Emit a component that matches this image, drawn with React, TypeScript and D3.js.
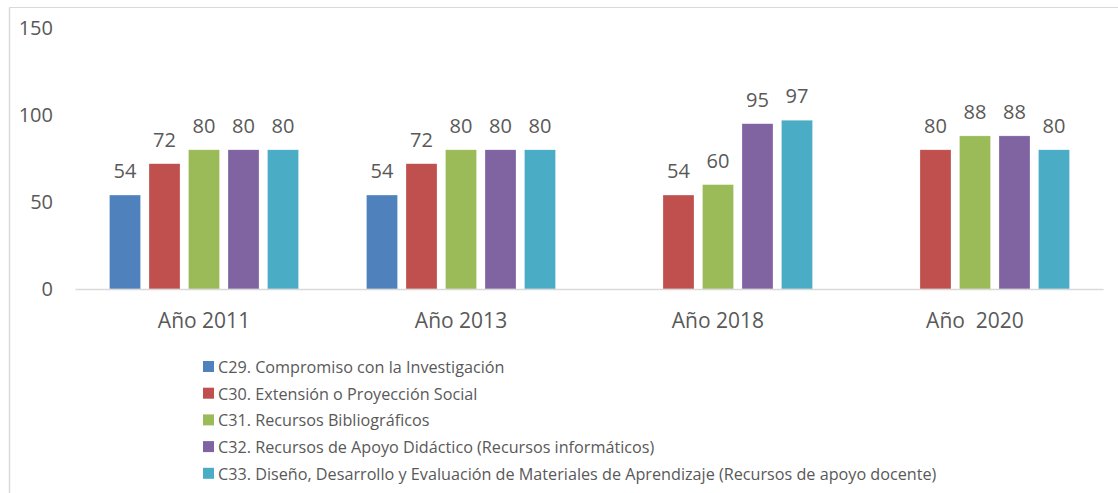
import React from 'react'
import * as d3 from 'd3'

// chart data
const categories = ['Año 2011', 'Año 2013', 'Año 2018', 'Año  2020']
const seriesNames = [
  'C29. Compromiso con la Investigación',
  'C30. Extensión o Proyección Social',
  'C31. Recursos Bibliográficos',
  'C32. Recursos de Apoyo Didáctico (Recursos informáticos)',
  'C33. Diseño, Desarrollo y Evaluación de Materiales de Aprendizaje (Recursos de apoyo docente)',
]
const c29 = [54, 54, null, null]
const c30 = [72, 72, 54, 80]
const c31 = [80, 80, 60, 88]
const c32 = [80, 80, 95, 88]
const c33 = [80, 80, 97, 80]
const yTicks = [0, 50, 100, 150]
const colors = ['#4F81BD', '#C0504D', '#9BBB59', '#8064A2', '#4BACC6']

const seriesValues: (number | null)[][] = [c29, c30, c31, c32, c33]

const W = 1118
const H = 493
const font = '"Open Sans", sans-serif'
const textColor = '#595959'

const App = () => {
  const x0 = d3.scaleBand<string>()
    .domain(categories)
    .range([75.5, 1103.5])
    .paddingInner(0.2315)
    .paddingOuter(0.1158)

  const x1 = d3.scaleBand<string>()
    .domain(seriesNames)
    .range([0, x0.bandwidth()])
    .paddingInner(0.215)
    .paddingOuter(0.1075)

  const y = d3.scaleLinear().domain([0, 150]).range([289, 28])

  const color = d3.scaleOrdinal<string, string>().domain(seriesNames).range(colors)

  return (
    <svg width={W} height={H} style={{ position: 'absolute', left: 0, top: 0, background: '#fff' }}>
      <rect x={0} y={0} width={W} height={H} fill="#fff" />
      {/* chart frame */}
      <line x1={9.5} x2={1118} y1={7.5} y2={7.5} stroke="#D9D9D9" strokeWidth={1} />
      <line x1={9.5} x2={9.5} y1={7.5} y2={H} stroke="#D9D9D9" strokeWidth={1.5} />

      {/* y tick labels */}
      <g fontFamily={font} fontSize={20} fill={textColor} textAnchor="end">
        {yTicks.map(t => (
          <text key={t} x={53} y={y(t) + 7}>{t}</text>
        ))}
      </g>

      {/* bars */}
      {seriesNames.map((s, si) => (
        <g key={s} fill={color(s)}>
          {categories.map((c, ci) => {
            const v = seriesValues[si][ci]
            if (v == null) return null
            const bx = (x0(c) ?? 0) + (x1(s) ?? 0)
            return (
              <rect key={c} x={bx} y={y(v)} width={x1.bandwidth()} height={y(0) - y(v)}
                stroke="#ffffff" strokeOpacity={0.5} strokeWidth={0.5} />
            )
          })}
        </g>
      ))}

      {/* data labels */}
      <g fontFamily={font} fontSize={20} fill={textColor} textAnchor="middle">
        {seriesNames.map((s, si) =>
          categories.map((c, ci) => {
            const v = seriesValues[si][ci]
            if (v == null) return null
            const cx = (x0(c) ?? 0) + (x1(s) ?? 0) + x1.bandwidth() / 2
            return <text key={s + c} x={cx} y={y(v) - 17}>{v}</text>
          })
        )}
      </g>

      {/* x axis */}
      <line x1={75.5} x2={1103.5} y1={289.5} y2={289.5} stroke="#D9D9D9" strokeWidth={1.5} />
      <g fontFamily={font} fontSize={21} fill={textColor} textAnchor="middle">
        {categories.map(c => (
          <text key={c} x={(x0(c) ?? 0) + x0.bandwidth() / 2} y={328} style={{ whiteSpace: 'pre' }}>{c}</text>
        ))}
      </g>

      {/* legend */}
      <g fontFamily={font} fontSize={16.2} fill={textColor}>
        {seriesNames.map((s, i) => (
          <g key={s} transform={`translate(203, ${361 + i * 26.7})`}>
            <rect x={0} y={0} width={11} height={11} fill={color(s)} />
            <text x={15} y={11.8}>{s}</text>
          </g>
        ))}
      </g>
    </svg>
  )
}

export default App
